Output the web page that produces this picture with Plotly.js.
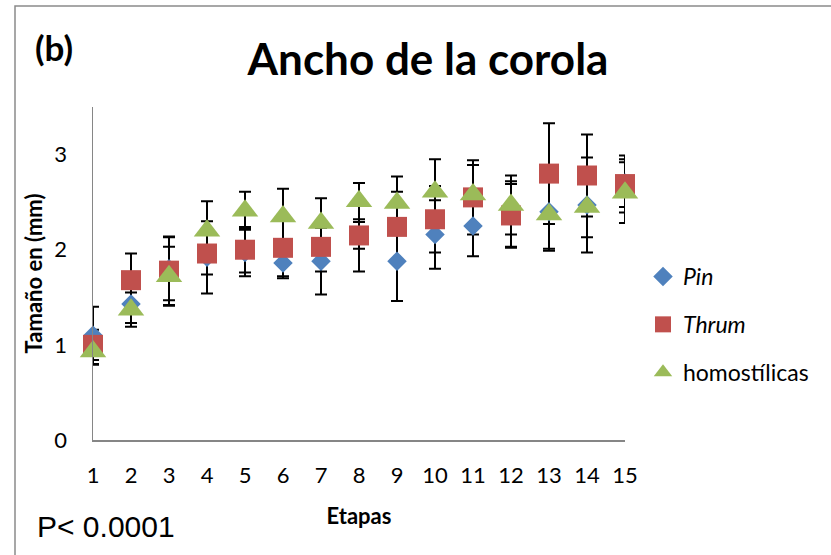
<!DOCTYPE html>
<html>
<head>
<meta charset="utf-8">
<script src="https://cdn.plot.ly/plotly-3.0.1.min.js"></script>
<style>html,body{margin:0;padding:0;background:#fff;}#chart{width:831px;height:555px;}</style>
</head>
<body>
<div id="chart"></div>
<script>
const etapas = [1,2,3,4,5,6,7,8,9,10,11,12,13,14,15];
const pin      = [1.10,1.43,1.80,1.92,1.97,1.86,1.88,2.15,1.88,2.16,2.25,2.37,2.40,2.47,2.70];
const pinErr   = [0.30,0.20,0.33,0.38,0.25,0.16,0.35,0.14,0.42,0.36,0.32,0.35,0.39,0.50,0.25];
const thrum    = [1.00,1.68,1.78,1.96,2.00,2.02,2.03,2.15,2.24,2.32,2.55,2.36,2.80,2.78,2.69];
const thrumErr = [0.16,0.28,0.36,0.22,0.24,0.30,0.26,0.38,0.37,0.35,0.39,0.33,0.53,0.43,0.30];
const homo     = [0.93,1.37,1.72,2.20,2.41,2.35,2.28,2.51,2.49,2.61,2.58,2.47,2.37,2.45,2.60];
const homoErr  = [0.14,0.18,0.31,0.31,0.20,0.29,0.26,0.19,0.28,0.34,0.31,0.31,0.38,0.32,0.32];
const seriesNames = ['<i>Pin</i>', '<i>Thrum</i>', 'homostílicas'];
const yTicks = [0,1,2,3];

const font = 'Lato, "Open Sans", sans-serif';
const series = [
  {y: pin, e: pinErr, name: seriesNames[0], color: '#4F81BD', symbol: 'diamond', size: 15},
  {y: thrum, e: thrumErr, name: seriesNames[1], color: '#C0504D', symbol: 'square', size: 20},
  {y: homo, e: homoErr, name: seriesNames[2], color: '#9BBB59', symbol: 'triangle-up', size: 23}
];

const traces = [];
// error bars first (drawn beneath all markers)
series.forEach(s => {
  traces.push({
    x: etapas, y: s.y, type: 'scatter', mode: 'markers',
    marker: {color: 'rgba(0,0,0,0)', size: 1},
    error_y: {type: 'data', array: s.e, visible: true, color: '#000', thickness: 2, width: 6},
    showlegend: false, hoverinfo: 'skip', cliponaxis: false
  });
});
series.forEach((s, i) => {
  traces.push({
    x: etapas, y: s.y, type: 'scatter', mode: 'markers', name: s.name,
    legendgroup: 'g' + i,
    marker: {color: s.color, symbol: s.symbol, size: s.size, line: {width: 0}},
    cliponaxis: false
  });
});

const L = 93, R = 625, T = 107, B = 440;
const px = v => (v - L) / (R - L);
const py = v => (B - v) / (B - T);

const layout = {
  width: 831, height: 555,
  margin: {l: L, r: 831 - R, t: T, b: 555 - B, pad: 0},
  paper_bgcolor: '#fff', plot_bgcolor: '#fff',
  font: {family: font, color: '#000', size: 22},
  title: {text: '<b>Ancho de la corola</b>', font: {family: font, size: 44, color: '#000'},
          x: 428/831, xanchor: 'center', y: 1 - 60/555, yanchor: 'middle', xref: 'container', yref: 'container'},
  xaxis: {
    range: [1, 15], tickvals: etapas, ticktext: etapas.map(String),
    showline: true, linecolor: '#868686', linewidth: 1.5, showgrid: false, zeroline: false,
    ticks: '', ticklen: 0, tickfont: {family: font, size: 22, color: '#000'}, ticklabelstandoff: 15,
    title: {text: '<b>Etapas</b>', font: {family: font, size: 22, color: '#000'}, standoff: 21},
    fixedrange: true
  },
  yaxis: {
    range: [0, 3.5], tickvals: yTicks, ticktext: yTicks.map(String),
    showline: true, linecolor: '#868686', linewidth: 1.5, showgrid: false, zeroline: false,
    ticks: '', tickfont: {family: font, size: 22, color: '#000'}, ticklabelstandoff: 20,
    title: {text: '<b>Tamaño en (mm)</b>', font: {family: font, size: 22, color: '#000'}, standoff: 5},
    fixedrange: true
  },
  legend: {
    x: px(643), xanchor: 'left', y: py(255), yanchor: 'top',
    font: {family: font, size: 23, color: '#000'},
    traceorder: 'grouped', tracegroupgap: 15, itemwidth: 30,
    bgcolor: 'rgba(0,0,0,0)'
  },
  shapes: [{
    type: 'rect', xref: 'paper', yref: 'paper',
    x0: px(15), x1: px(900), y0: py(700), y1: py(6),
    line: {color: '#8a8a8a', width: 1.5}, fillcolor: 'rgba(0,0,0,0)', layer: 'below'
  }],
  annotations: [
    {text: '<b>(b)</b>', xref: 'paper', yref: 'paper', x: px(33), y: py(47), xanchor: 'left', yanchor: 'middle',
     showarrow: false, font: {family: font, size: 35, color: '#000'}},
    {text: 'P< 0.0001', xref: 'paper', yref: 'paper', x: px(35), y: py(526), xanchor: 'left', yanchor: 'middle',
     showarrow: false, font: {family: '"Liberation Sans", Arial, sans-serif', size: 30, color: '#000'}}
  ],
  showlegend: true
};

Plotly.newPlot('chart', traces, layout, {displayModeBar: false, staticPlot: true});
</script>
</body>
</html>
